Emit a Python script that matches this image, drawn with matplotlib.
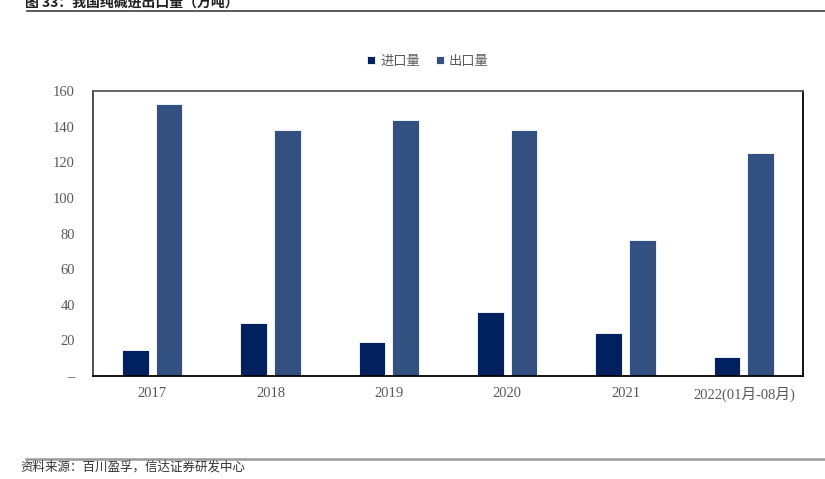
import matplotlib
matplotlib.use("Agg")
import matplotlib.pyplot as plt
import numpy as np

categories = ["2017", "2018", "2019", "2020", "2021", "2022(01月-08月)"]
imports = [14.6, 29.8, 19.1, 35.9, 24.1, 10.7]
exports = [152.7, 138.1, 143.7, 138.1, 76.4, 125.2]
series_names = ["进口量", "出口量"]
yticks = [0, 20, 40, 60, 80, 100, 120, 140, 160]
ytick_labels = ["–", "20", "40", "60", "80", "100", "120", "140", "160"]
title = "图 33：我国纯碱进出口量（万吨）"
source = "资料来源：百川盈孚，信达证券研发中心"

plt.rcParams['font.family'] = ['Liberation Serif', 'Noto Sans CJK SC', 'DejaVu Sans']

W, H = 825, 479
fig = plt.figure(figsize=(W / 100, H / 100), dpi=100)
ax = fig.add_axes([93 / W, 1 - 376 / H, (803 - 93) / W, (376 - 91) / H])

x = np.arange(len(categories))
w = 0.225
off = 0.1425
c_imp = "#002060"
c_exp = "#325080"
ax.bar(x - off, imports, w, color=c_imp, edgecolor="white", linewidth=0.6, label=series_names[0])
ax.bar(x + off, exports, w, color=c_exp, edgecolor="white", linewidth=0.6, label=series_names[1])

ax.set_xlim(-0.5, len(categories) - 0.5)
ax.set_ylim(0, 160)
ax.set_yticks(yticks)
ax.set_yticklabels(ytick_labels)
ax.set_xticks(x)
ax.set_xticklabels(categories)
ax.tick_params(axis='both', length=0, colors="#595959", labelsize=10.5)
ax.tick_params(axis='y', pad=13)
ax.tick_params(axis='x', pad=8)
for lab in ax.get_xticklabels() + ax.get_yticklabels():
    lab.set_fontfamily(['Liberation Serif', 'Noto Sans CJK SC'])
ax.spines['top'].set_color("#595959")
ax.spines['left'].set_color("#404040")
ax.spines['right'].set_color("#000000")
ax.spines['bottom'].set_color("#000000")
for s in ax.spines.values():
    s.set_linewidth(1.3)

leg = fig.legend(loc='center', bbox_to_anchor=(428 / W, 1 - 61 / H), ncol=2, frameon=False,
                 handlelength=0.6, handleheight=0.6, handletextpad=0.4, columnspacing=1.2,
                 prop={'family': ['Noto Sans CJK SC'], 'size': 9.5})
for t in leg.get_texts():
    t.set_color("#595959")

# title (partially cut off at top, as in the source page)
fig.text(25 / W, 1 - 7 / H, title, fontsize=10, fontweight='bold', color="#1f1f1f",
         va='baseline', ha='left', family=['Noto Sans CJK SC', 'DejaVu Sans'])
fig.add_artist(plt.Line2D([27 / W, 1.0], [1 - 11 / H, 1 - 11 / H], color="#404040", linewidth=1.2))

# footer
fig.add_artist(plt.Line2D([26 / W, 1.0], [1 - 459 / H, 1 - 459 / H], color="#999999", linewidth=1.8))
fig.text(20 / W, 1 - 467 / H, source, fontsize=9, style='italic', color="#333333",
         va='center', ha='left', family=['Noto Sans CJK SC', 'DejaVu Sans'])

fig.savefig("out.png", dpi=100)
